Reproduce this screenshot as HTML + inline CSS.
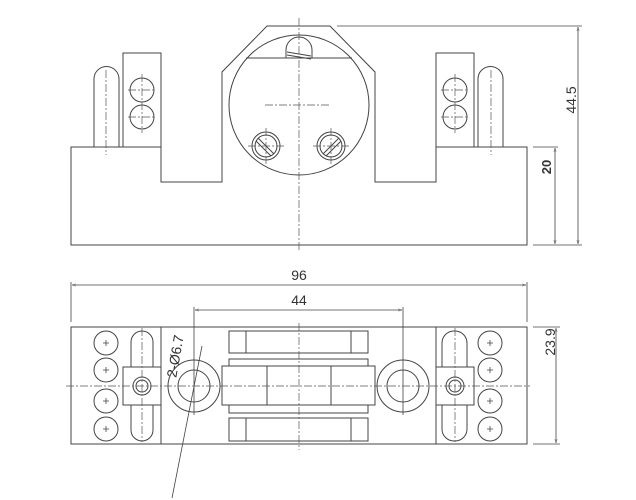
<!DOCTYPE html>
<html><head><style>html,body{margin:0;padding:0;background:#fff}svg{display:block}</style></head><body>
<svg width="636" height="500" viewBox="0 0 636 500" xmlns="http://www.w3.org/2000/svg" font-family="Liberation Sans, sans-serif">
<defs>
<marker id="a" viewBox="0 0 10 10" refX="10" refY="5" markerWidth="8" markerHeight="5" orient="auto-start-reverse"><path d="M0,2 L10,5 L0,8" fill="none" stroke="#555" stroke-width="1"/></marker>
</defs>
<g fill="none" stroke="#444" stroke-width="1">
<path d="M71,147 H123 V53 H161 V182 H222 V72 L267,26 H330 L375,72 V182 H436 V53 H474 V147 H527 V245 H71 Z"/>
<line x1="161" y1="147" x2="123" y2="147"/>
<line x1="436" y1="147" x2="474" y2="147"/>
<circle cx="299" cy="105" r="70"/>
<line x1="246" y1="58" x2="352" y2="58"/>
<path d="M286,58 V50 A13,13 0 0 1 312,50 V58"/>
<line x1="287" y1="52" x2="311" y2="56"/><line x1="287" y1="55" x2="311" y2="59"/>
<g>
<circle cx="266" cy="146" r="14"/><circle cx="266" cy="146" r="11"/>
<line x1="258" y1="138" x2="274" y2="154"/><line x1="256" y1="141" x2="271" y2="156"/>
<circle cx="331" cy="146" r="14"/><circle cx="331" cy="146" r="11"/>
<line x1="339" y1="138" x2="323" y2="154"/><line x1="341" y1="141" x2="326" y2="156"/>
</g>
<path d="M94,147 V79 A12.5,12.5 0 0 1 119,79 V147"/>
<path d="M478,147 V79 A12.5,12.5 0 0 1 503,79 V147"/>
<circle cx="142" cy="90" r="12"/><circle cx="142" cy="117" r="12"/>
<circle cx="455" cy="90" r="12"/><circle cx="455" cy="117" r="12"/>
<line x1="337" y1="26" x2="582" y2="26" stroke-width="0.8"/>
<line x1="533" y1="245" x2="582" y2="245" stroke-width="0.8"/>
<line x1="533" y1="147" x2="558" y2="147" stroke-width="0.8"/>
<line x1="578" y1="27" x2="578" y2="244" stroke-width="0.8" marker-start="url(#a)" marker-end="url(#a)"/>
<line x1="555" y1="148" x2="555" y2="244" stroke-width="0.8" marker-start="url(#a)" marker-end="url(#a)"/>
<rect x="71" y="327" width="456" height="117"/>
<line x1="161" y1="327" x2="161" y2="444"/><line x1="436" y1="327" x2="436" y2="444"/>
<rect x="229" y="331" width="139" height="22"/><line x1="246" y1="331" x2="246" y2="353"/><line x1="351" y1="331" x2="351" y2="353"/>
<rect x="229" y="418" width="139" height="23"/><line x1="246" y1="418" x2="246" y2="441"/><line x1="351" y1="418" x2="351" y2="441"/>
<rect x="229" y="359" width="139" height="54"/>
<rect x="222" y="366" width="153" height="39" fill="#fff"/>
<line x1="267" y1="366" x2="267" y2="405"/><line x1="331" y1="366" x2="331" y2="405"/>
<circle cx="194" cy="386" r="26"/><circle cx="194" cy="386" r="16"/>
<circle cx="403" cy="386" r="26"/><circle cx="403" cy="386" r="16"/>
<rect x="131" y="331" width="22" height="110" rx="11"/>
<rect x="123" y="367" width="38" height="38" fill="#fff"/>
<circle cx="142" cy="386" r="9"/><circle cx="142" cy="386" r="6"/>
<rect x="442" y="331" width="25" height="110" rx="12"/>
<rect x="436" y="367" width="38" height="38" fill="#fff"/>
<circle cx="455" cy="386" r="9"/><circle cx="455" cy="386" r="6"/>
<g>
<circle cx="106" cy="343" r="12"/><circle cx="106" cy="370" r="12"/><circle cx="106" cy="401" r="12"/><circle cx="106" cy="429" r="12"/>
<circle cx="490" cy="343" r="12"/><circle cx="490" cy="370" r="12"/><circle cx="490" cy="401" r="12"/><circle cx="490" cy="429" r="12"/>
</g>
<g stroke-width="0.8">
<path d="M103,343h6M106,340v6M103,370h6M106,367v6M103,401h6M106,398v6M103,429h6M106,426v6"/>
<path d="M487,343h6M490,340v6M487,370h6M490,367v6M487,401h6M490,398v6M487,429h6M490,426v6"/>
</g>
<g stroke-width="0.8">
<line x1="71" y1="282" x2="71" y2="322"/><line x1="527" y1="282" x2="527" y2="322"/>
<line x1="72" y1="285" x2="526" y2="285" marker-start="url(#a)" marker-end="url(#a)"/>
<line x1="194" y1="307" x2="194" y2="415"/><line x1="403" y1="307" x2="403" y2="415"/>
<line x1="195" y1="310" x2="402" y2="310" marker-start="url(#a)" marker-end="url(#a)"/>
<line x1="533" y1="327" x2="560" y2="327"/><line x1="533" y1="444" x2="560" y2="444"/>
<line x1="556" y1="328" x2="556" y2="443" marker-start="url(#a)" marker-end="url(#a)"/>
<line x1="202" y1="346" x2="172" y2="498"/>
</g>
</g>
<g stroke="#555" stroke-width="0.7" stroke-dasharray="8,2,2,2" fill="none">
<line x1="299" y1="18" x2="299" y2="252"/>
<line x1="265" y1="105" x2="331" y2="105"/>
<line x1="106" y1="70" x2="106" y2="155"/><line x1="491" y1="70" x2="491" y2="155"/>
<line x1="142" y1="74" x2="142" y2="133"/><line x1="455" y1="74" x2="455" y2="133"/>
<line x1="128" y1="90" x2="156" y2="90"/><line x1="128" y1="117" x2="156" y2="117"/>
<line x1="441" y1="90" x2="469" y2="90"/><line x1="441" y1="117" x2="469" y2="117"/>
<line x1="266" y1="128" x2="266" y2="164"/><line x1="248" y1="146" x2="284" y2="146"/>
<line x1="331" y1="128" x2="331" y2="164"/><line x1="313" y1="146" x2="349" y2="146"/>
<line x1="66" y1="386" x2="530" y2="386"/>
<line x1="299" y1="323" x2="299" y2="450"/>
<line x1="142" y1="328" x2="142" y2="442"/><line x1="455" y1="328" x2="455" y2="442"/>
</g>
<g fill="#333" font-size="14">
<text x="299" y="280" text-anchor="middle">96</text>
<text x="299" y="305" text-anchor="middle">44</text>
<text transform="translate(576,100) rotate(-90)" text-anchor="middle">44.5</text>
<text transform="translate(551,167) rotate(-90)" text-anchor="middle" font-weight="bold" font-size="13">20</text>
<text transform="translate(555,342) rotate(-90)" text-anchor="middle">23.9</text>
<text transform="translate(180,357) rotate(-80)" text-anchor="middle">2-Ø6.7</text>
</g>
</svg>
</body></html>
